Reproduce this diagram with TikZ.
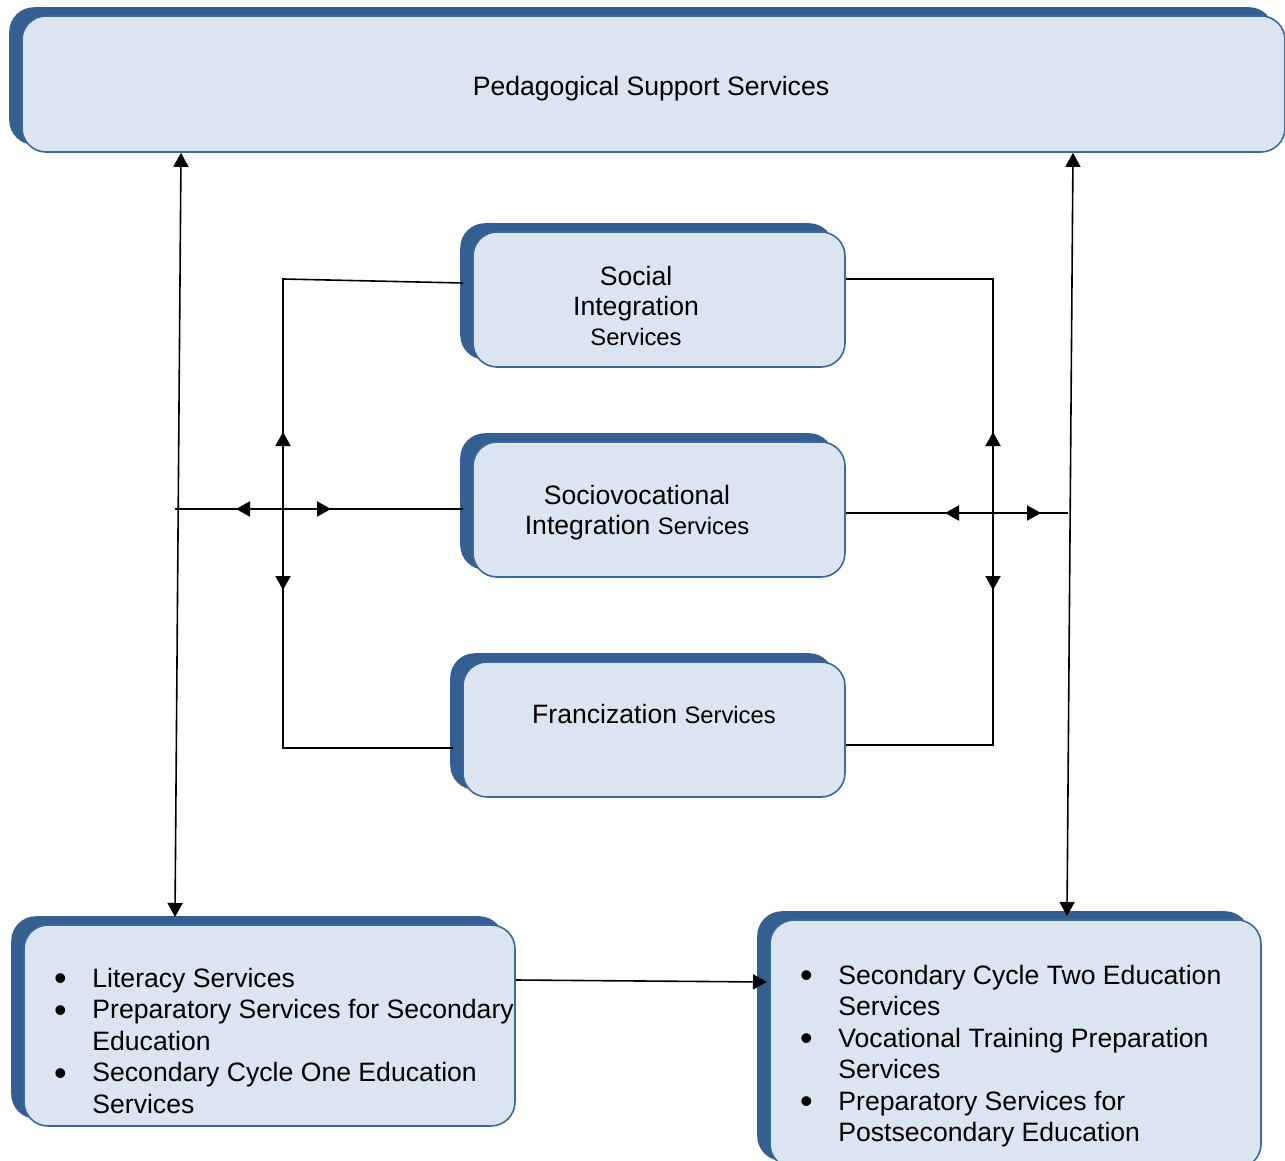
\documentclass[tikz,border=0pt]{standalone}
\usepackage{fontspec}
\setmainfont{Liberation Sans}
\usetikzlibrary{arrows.meta,shadows}
\definecolor{shadowblue}{HTML}{365F91}
\definecolor{boxfill}{HTML}{DBE5F1}
\definecolor{boxline}{HTML}{3C679A}
\newcommand\smallsvc{\fontsize{11.9}{15}\selectfont}
\newcommand\bul{\hspace*{2pt}\makebox[0pt][c]{\raisebox{-1.9pt}{\scalebox{1.35}{\textbullet}}}}
\begin{document}
\begin{tikzpicture}[x=0.5pt,y=-0.5pt,
  svcbox/.style={draw=boxline, line width=0.8pt, fill=boxfill, rounded corners=12pt,
    copy shadow={shadow xshift=-6pt, shadow yshift=4pt, fill=shadowblue, draw=shadowblue},
    inner sep=0pt},
  listtext/.style={inner sep=0pt, font=\fontsize{13.3}{15.75}\selectfont},
  lbl/.style={inner sep=0pt, align=center, font=\fontsize{13.3}{15}\selectfont},
  conn/.style={line width=0.8pt},
  tip/.style={line width=1pt, -{Triangle[length=7pt,width=7.5pt]}},
  dbl/.style={line width=0.8pt, {Triangle[length=7pt,width=7.5pt]}-{Triangle[length=7pt,width=7.5pt]}}]
\useasboundingbox (0,0) rectangle (1285,1161);
\clip (0,0) rectangle (1285,1161);
% boxes
\node[svcbox, minimum width=631.5pt, minimum height=68pt] (pss) at (653.5,84) {};
\node[svcbox, minimum width=186pt, minimum height=67.5pt] (sis) at (659,299.5) {};
\node[svcbox, minimum width=186pt, minimum height=67.5pt] (svis) at (659,509.5) {};
\node[svcbox, minimum width=191pt, minimum height=67.5pt] (fs) at (654,729.5) {};
\node[svcbox, minimum width=245.5pt, minimum height=100.5pt] (bl) at (269.5,1025.5) {};
\node[svcbox, minimum width=245.5pt, minimum height=124pt] (br) at (1015.5,1044) {};
% labels
\node[lbl] (psslbl) at (651,89) {Pedagogical Support Services};
\node[lbl] (sislbl) at (636,306) {Social\\Integration\\{\smallsvc Services}};
\node[lbl] (svislbl) at (637,513) {Sociovocational\\Integration {\smallsvc Services}};
\node[lbl] (fslbl) at (654,714) {Francization {\smallsvc Services}};
\node[listtext, anchor=base west] (bltext) at (56,987) {\begin{tabular}[t]{@{}p{18pt}@{}l@{}}
\bul & Literacy Services\\
\bul & Preparatory Services for Secondary\\
 & Education\\
\bul & Secondary Cycle One Education\\
 & Services
\end{tabular}};
\node[listtext, anchor=base west] (brtext) at (802,984) {\begin{tabular}[t]{@{}p{18pt}@{}l@{}}
\bul & Secondary Cycle Two Education\\
 & Services\\
\bul & Vocational Training Preparation\\
 & Services\\
\bul & Preparatory Services for\\
 & Postsecondary Education
\end{tabular}};
% coordinates
\coordinate (lbot) at (175,917);
\coordinate (rbot) at (1067,916);
\coordinate (cl) at (283,509);
\coordinate (cr) at (993,513);
\coordinate (lhl) at (175,509);
\coordinate (lhr) at (463,509);
\coordinate (rhr) at (1068,513);
% long vertical arrows
\draw[dbl] (181,0 |- pss.south) -- (lbot);
\draw[dbl] (1073,0 |- pss.south) -- (rbot);
% left frame
\draw[conn] (463,283) -- (283,279) -- (283,748) -- (453,748);
\draw[conn] (lhl) -- (lhr);
\draw[tip] (cl) -- (283,432);
\draw[tip] (cl) -- (283,590);
\draw[tip] (cl) -- (236,509);
\draw[tip] (cl) -- (331,509);
% right frame
\draw[conn] (sis.east |- 0,279) -- (993,279) -- (993,745) -- (fs.east |- 0,745);
\draw[conn] (svis.east |- cr) -- (rhr);
\draw[tip] (cr) -- (993,432);
\draw[tip] (cr) -- (993,590);
\draw[tip] (cr) -- (945,513);
\draw[tip] (cr) -- (1041,513);
% bottom arrow
\draw[line width=0.8pt, -{Triangle[length=7pt,width=7.5pt]}] (bl.east |- 0,980) -- (767,982);
\end{tikzpicture}
\end{document}
